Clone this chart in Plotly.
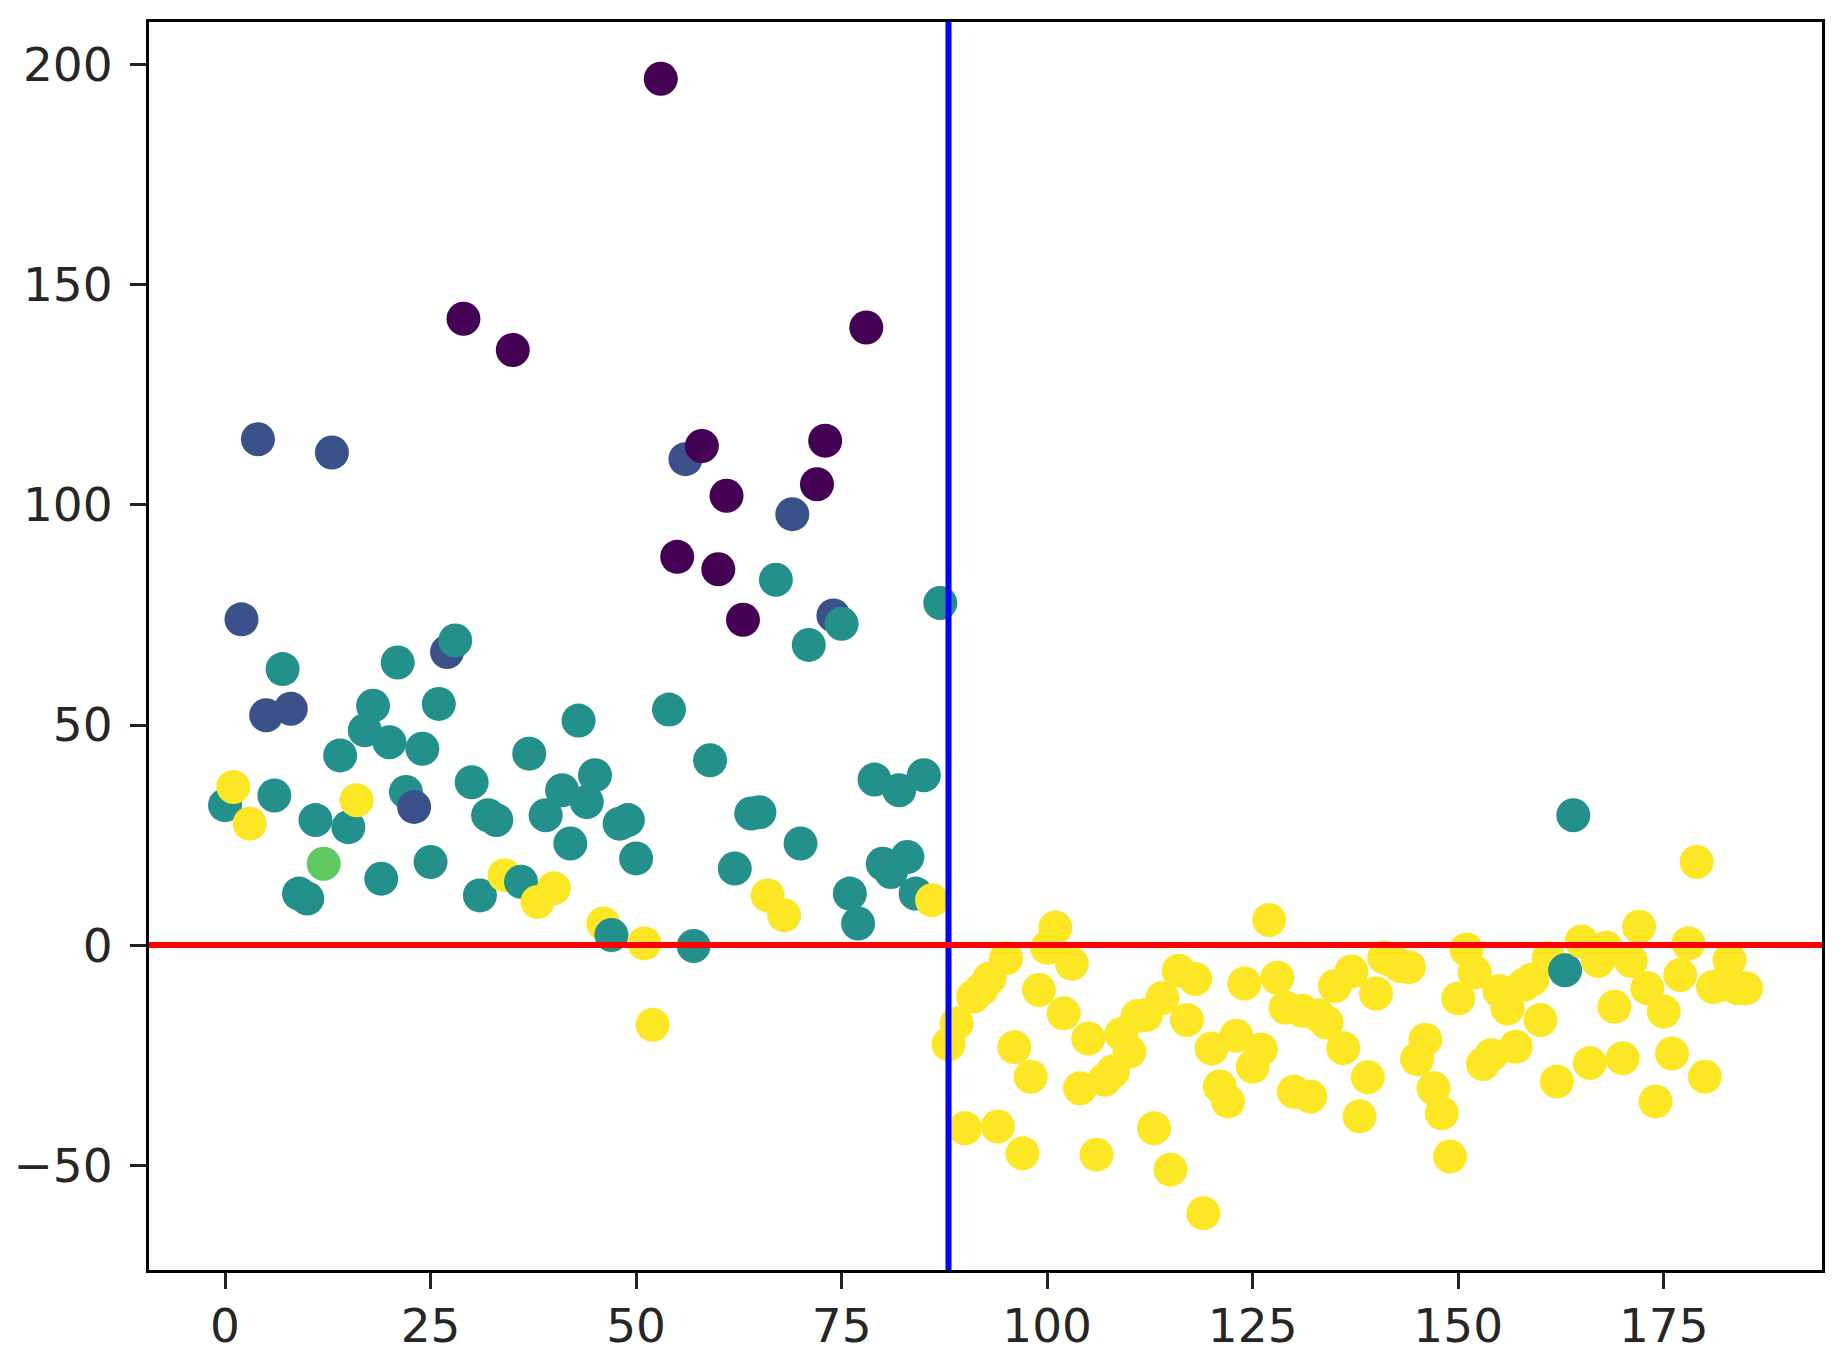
import plotly.graph_objects as go

# ---- data ----
y_left = [31.8, 35.9, 74.0, 27.6, 114.9, 52.2, 34.0, 62.7, 53.7, 11.7,
          10.6, 28.4, 18.5, 111.9, 43.1, 26.8, 32.9, 48.8, 54.4, 15.1,
          46.1, 64.2, 34.8, 31.4, 44.6, 18.9, 54.8, 66.6, 69.2, 142.3,
          37.0, 11.3, 29.5, 28.4, 15.9, 135.2, 14.4, 43.5, 9.8, 29.5,
          12.9, 35.2, 23.1, 51.0, 32.5, 38.6, 4.9, 2.3, 27.6, 28.4,
          19.7, 0.4, -18.1, 196.8, 53.5, 88.2, 110.4, -0.2, 113.4, 42.0,
          85.4, 102.1, 17.4, 73.9, 29.9, 30.2, 11.3, 83.0, 6.8, 97.9,
          23.1, 68.2, 104.7, 114.6, 74.9, 73.0, 11.7, 4.9, 140.3, 37.6,
          18.5, 16.6, 35.2, 20.0, 11.7, 38.6, 10.2, 77.7]
cls_left = [2, 4, 1, 4, 1, 1, 2, 2, 1, 2,
            2, 2, 3, 1, 2, 2, 4, 2, 2, 2,
            2, 2, 2, 1, 2, 2, 2, 1, 2, 0,
            2, 2, 2, 2, 4, 0, 2, 2, 4, 2,
            4, 2, 2, 2, 2, 2, 4, 2, 2, 2,
            2, 4, 4, 0, 2, 0, 1, 2, 0, 2,
            0, 0, 2, 0, 2, 2, 4, 2, 4, 1,
            2, 2, 0, 0, 1, 2, 2, 2, 0, 2,
            2, 2, 2, 2, 2, 2, 4, 2]
y_right = [-22.5, -17.8, -41.6, -11.7, -10.0, -7.6, -41.2, -3.0, -23.2, -47.3,
           -29.9, -10.2, -0.6, 4.0, -15.5, -4.2, -32.5, -21.2, -47.6, -30.6,
           -28.7, -20.2, -24.2, -16.1, -15.9, -41.6, -12.0, -51.0, -5.8, -17.0,
           -7.7, -60.9, -23.5, -32.1, -35.5, -20.6, -8.7, -27.6, -23.7, 5.7,
           -7.4, -14.2, -33.3, -14.9, -34.4, -16.0, -17.6, -9.3, -23.4, -6.0,
           -38.9, -30.0, -11.0, -2.8, -3.5, -4.8, -5.0, -25.9, -21.5, -32.5,
           -38.2, -48.0, -12.1, -1.0, -6.2, -27.0, -25.0, -10.4, -14.4, -23.1,
           -9.0, -7.8, -17.0, -3.0, -31.0, -5.7, 29.5, 0.8, -26.8, -3.6,
           -0.6, -14.0, -25.7, -3.6, 4.2, -9.8, -35.5, -15.1, -24.6, -6.8,
           0.4, 18.9, -29.9, -9.5, -9.0, -3.4, -9.8, -9.8]
cls_right = [4] * 75 + [2, 2] + [4] * 21

y_vals = y_left + y_right
clusters = cls_left + cls_right
x_vals = list(range(len(y_vals)))

split_x = 88
zero_y = 0

x_ticks = [0, 25, 50, 75, 100, 125, 150, 175]
y_ticks = [-50, 0, 50, 100, 150, 200]
y_tick_text = ["\u221250", "0", "50", "100", "150", "200"]

x_range = [-9.25, 194.25]
y_range = [-73.8, 209.7]

fig = go.Figure()
fig.add_trace(go.Scatter(
    x=x_vals, y=y_vals, mode="markers",
    marker=dict(size=34, color=clusters, colorscale="Viridis",
                cmin=0, cmax=4, line=dict(width=0), opacity=1),
    showlegend=False, hoverinfo="skip",
))

fig.add_shape(type="line", xref="x", yref="y domain",
              x0=split_x, x1=split_x, y0=0, y1=1,
              line=dict(color="#0000ff", width=6), layer="above")
fig.add_shape(type="line", xref="x domain", yref="y",
              x0=0, x1=1, y0=zero_y, y1=zero_y,
              line=dict(color="#ff0000", width=6), layer="above")

axis_common = dict(
    showgrid=False, zeroline=False, showline=True, mirror=True,
    linecolor="#000000", linewidth=3, automargin=False,
    ticks="outside", ticklen=16, tickwidth=3, tickcolor="#222222",
    tickfont=dict(family="DejaVu Sans", size=47, color="#262626"),
)

fig.update_xaxes(range=x_range, tickvals=x_ticks, ticklabelstandoff=-3, **axis_common)
fig.update_yaxes(range=y_range, tickvals=y_ticks, ticktext=y_tick_text,
                 ticklabelstandoff=8, **axis_common)

fig.update_layout(
    width=1843, height=1360,
    margin=dict(l=149, r=21, t=22, b=90),
    plot_bgcolor="white", paper_bgcolor="white",
)

fig.write_html(
    "out.html",
    config={"displayModeBar": False},
    post_script="document.body.style.margin='0';document.body.style.overflow='hidden';",
)
